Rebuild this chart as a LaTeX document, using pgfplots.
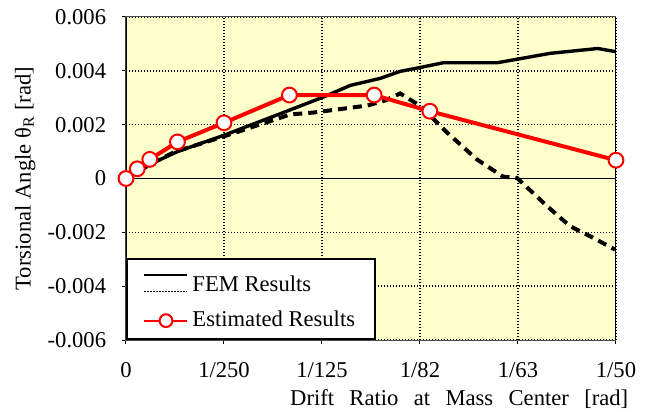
\documentclass[border=0pt]{standalone}
\usepackage{fontspec}
\setmainfont{Liberation Serif}
\usepackage{pgfplots}
\usepackage{pgfplotstable}
\pgfplotsset{compat=1.18}
\definecolor{bg}{HTML}{FFFFCC}
\definecolor{myred}{HTML}{FF0000}

\pgfplotstableread{
x y
0 0
0.00096 0.00052
0.0021 0.0010
0.00398 0.0016
0.00642 0.00245
0.00801 0.00301
0.00916 0.00346
0.01038 0.00372
0.01119 0.00398
0.01204 0.00413
0.01295 0.0043
0.01515 0.0043
0.01608 0.00445
0.01731 0.00465
0.01926 0.00483
0.02 0.00471
}\femsolid

\pgfplotstableread{
x y
0 0
0.00112 0.00059
0.00202 0.0010
0.00398 0.00156
0.00671 0.00238
0.00765 0.00245
0.00985 0.00271
0.01058 0.0029
0.01119 0.00316
0.01204 0.00268
0.0131 0.00171
0.01432 0.00071
0.01539 0.00007
0.01596 0.00002
0.01719 -0.00103
0.01812 -0.00177
0.01906 -0.0022
0.01996 -0.00264
}\femdashed

\pgfplotstableread{
x y
0 0
0.00046 0.00036
0.00097 0.00071
0.0021 0.00136
0.0040 0.00207
0.00667 0.0031
0.01013 0.0031
0.0124 0.0025
0.02 0.00068
}\estimated

\begin{document}
\fontsize{11.3}{13.5}\selectfont
\begin{tikzpicture}
\path[use as bounding box] (-63pt,-36pt) rectangle (264pt,170pt);
\begin{axis}[
  scale only axis, width=245pt, height=161.5pt,
  at={(0,0)}, anchor=south west,
  xmin=0, xmax=0.02, ymin=-0.006, ymax=0.006,
  xtick={0,0.004,0.008,0.012,0.016,0.02},
  xticklabels={0,1/250,1/125,1/82,1/63,1/50},
  ytick={-0.006,-0.004,-0.002,0,0.002,0.004,0.006},
  yticklabels={-0.006,-0.004,-0.002,0,0.002,0.004,0.006},
  scaled x ticks=false, scaled y ticks=false,
  axis background/.style={fill=bg},
  grid=major,
  major grid style={black, line width=0.7pt, dash pattern=on 0.7pt off 0.8pt},
  axis line style={black!70, line width=0.5pt},
  tick style={black, line width=0.5pt}, major tick length=2pt, tick align=outside,
  xtick pos=bottom, ytick pos=left,
  xticklabel style={yshift=-5.5pt},
  yticklabel style={xshift=-4pt},
  extra y ticks={0}, extra y tick labels={},
  extra y tick style={grid=major, major grid style={solid, black, line width=0.8pt}, tick style={draw=none}},
  xlabel={\makebox[169pt][s]{Drift Ratio at Mass Center [rad]}},
  xlabel style={at={(axis description cs:0.68,0)}, anchor=center, yshift=-29.5pt},
  ylabel={Torsional Angle θ\textsubscript{R} [rad]},
  ylabel style={at={(axis description cs:-0.206,0.5)}, anchor=center},
  legend style={at={(axis description cs:0,0)}, anchor=south west, draw=black, line width=0.8pt,
    fill=white, inner xsep=8pt, inner ysep=2.5pt, row sep=4pt, font=\fontsize{11.3}{13.5}\selectfont},
  legend cell align=left,
]
\addplot[black, line width=1.7pt,
  legend image code/.code={
    \path (0pt,10pt);
    \draw[black, line width=0.9pt] (0pt,5.2pt) -- (21.5pt,5.2pt);
    \draw[black, line width=0.7pt, dash pattern=on 0.7pt off 0.8pt] (0pt,-3pt) -- (21.5pt,-3pt);
  }] table {\femsolid};
\addlegendentry{FEM Results}
\addplot[black, line width=2pt, dash pattern=on 4.5pt off 3pt, forget plot] table {\femdashed};
\addplot[myred, line width=2pt, mark=*, mark size=3.7pt,
  mark options={solid, fill=white, draw=myred, line width=1pt},
  legend image code/.code={
    \draw[myred, line width=1pt] (0pt,0pt) -- (21.5pt,0pt);
    \draw[myred, line width=1pt, fill=white] (10.75pt,0pt) circle (3.2pt);
  }] table {\estimated};
\addlegendentry{Estimated Results}
\draw[black, line width=1.3pt] (rel axis cs:0,0) -- (rel axis cs:0,1);
\draw[black, line width=1.3pt] (rel axis cs:1,0) -- (rel axis cs:1,1);
\end{axis}
\end{tikzpicture}
\end{document}
